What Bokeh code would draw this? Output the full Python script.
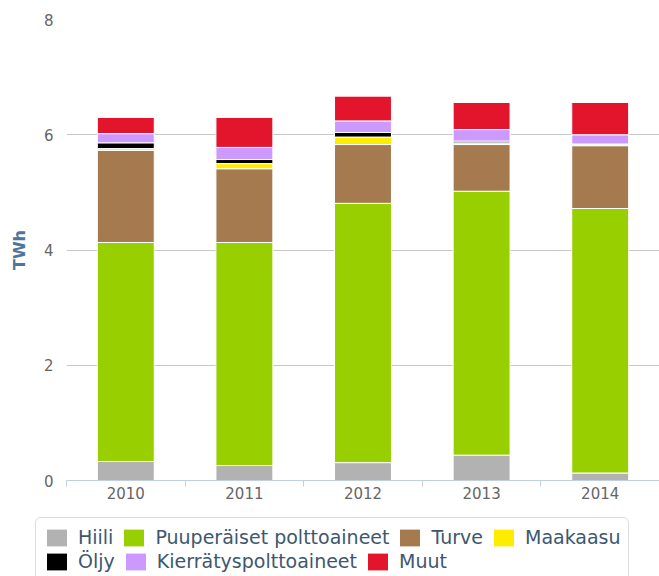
from bokeh.plotting import figure
from bokeh.layouts import column
from bokeh.models import (ColumnDataSource, FixedTicker, Legend, LegendItem, Range1d,
                          BoxAnnotation, Column)
from bokeh.embed import file_html
from bokeh.resources import INLINE

years = ["2010", "2011", "2012", "2013", "2014"]
hiili = [0.33, 0.26, 0.31, 0.44, 0.13]
puu = [3.80, 3.87, 4.50, 4.58, 4.59]
turve = [1.60, 1.28, 1.02, 0.81, 1.09]
maakaasu = [0.03, 0.09, 0.13, 0.03, 0.02]
oljy = [0.10, 0.07, 0.08, 0.03, 0.01]
kierratys = [0.16, 0.21, 0.20, 0.20, 0.16]
muut = [0.28, 0.52, 0.43, 0.47, 0.56]

names = ["Hiili", "Puuperäiset polttoaineet", "Turve", "Maakaasu",
         "Öljy", "Kierrätyspolttoaineet", "Muut"]
keys = ["hiili", "puu", "turve", "maakaasu", "oljy", "kierratys", "muut"]
colors = ["#b2b2b2", "#97cf00", "#a47a4e", "#ffed00", "#000000", "#cc9aff", "#e3152d"]

x = list(range(len(years)))
src = ColumnDataSource(dict(x=x, hiili=hiili, puu=puu, turve=turve, maakaasu=maakaasu,
                            oljy=oljy, kierratys=kierratys, muut=muut))

W = 659
p = figure(width=W, height=508, output_backend="svg", toolbar_location=None,
           x_range=Range1d(-0.5, len(years) - 0.5), y_range=Range1d(0, 8),
           min_border_left=66, min_border_right=0, min_border_top=19, min_border_bottom=28)
p.outline_line_color = None

rs = p.vbar_stack(stackers=keys, x="x", width=0.48, fill_color=colors,
                  line_color="white", line_width=1, source=src)

xa = p.xaxis[0]
xa.ticker = FixedTicker(ticks=x, minor_ticks=[i - 0.5 for i in range(len(years) + 1)])
xa.major_label_overrides = {i: y for i, y in enumerate(years)}
xa.major_tick_line_color = None
xa.major_tick_out = 0
xa.major_tick_in = 0
xa.minor_tick_line_color = "#C0D0E0"
xa.minor_tick_out = 6
xa.minor_tick_in = 0
xa.axis_line_color = "#C0D0E0"
xa.major_label_text_font = "DejaVu Sans"
xa.major_label_text_font_size = "15px"
xa.major_label_text_color = "#666666"
xa.major_label_standoff = 0

ya = p.yaxis[0]
ya.ticker = FixedTicker(ticks=[0, 2, 4, 6, 8])
ya.axis_line_color = None
ya.major_tick_line_color = None
ya.minor_tick_line_color = None
ya.major_tick_out = 0
ya.major_tick_in = 0
ya.major_label_text_font = "DejaVu Sans"
ya.major_label_text_font_size = "15px"
ya.major_label_text_color = "#666666"
ya.major_label_standoff = 13
ya.axis_label = "TWh"
ya.axis_label_text_font = "DejaVu Sans"
ya.axis_label_text_font_size = "16px"
ya.axis_label_text_font_style = "bold"
ya.axis_label_text_color = "#4d759e"
ya.axis_label_standoff = 12

p.xgrid.grid_line_color = None
p.ygrid.grid_line_color = "#C8C8C8"
p.ygrid.grid_line_width = 1

# legend strip below the chart (pixel-mapped ranges)
H2 = 68
q = figure(width=W, height=H2, output_backend="svg", toolbar_location=None,
           x_range=Range1d(0, W), y_range=Range1d(0, H2),
           x_axis_type=None, y_axis_type=None, min_border=0,
           min_border_left=0, min_border_right=0, min_border_top=0, min_border_bottom=0)
q.outline_line_color = None
q.xgrid.grid_line_color = None
q.ygrid.grid_line_color = None

# hidden legend proxies sharing the same data
proxies = [q.vbar(x="x", top=k, width=0.48, source=src, fill_color=c, line_color=c,
                  line_width=0, visible=False)
           for k, c in zip(keys, colors)]

q.add_layout(BoxAnnotation(left=35, right=628, top=59, bottom=-20,
                           fill_alpha=0, line_color="#909090", line_width=1,
                           border_radius=5))

common = dict(orientation="horizontal", label_text_font="DejaVu Sans",
              label_text_font_size="19px", label_text_color="#3E576F",
              glyph_width=25, glyph_height=21, label_standoff=9, spacing=8,
              padding=0, margin=0, border_line_color=None, background_fill_alpha=0)
row1 = Legend(items=[LegendItem(label=names[i], renderers=[proxies[i]]) for i in range(4)],
              location=(44, 28), **common)
row2 = Legend(items=[LegendItem(label=names[i], renderers=[proxies[i]]) for i in range(4, 7)],
              location=(44, 4), **common)
q.add_layout(row1, "center")
q.add_layout(row2, "center")

layout = column(p, Column(children=[q]), spacing=0)
open("out.html", "w").write(file_html(layout, INLINE))
